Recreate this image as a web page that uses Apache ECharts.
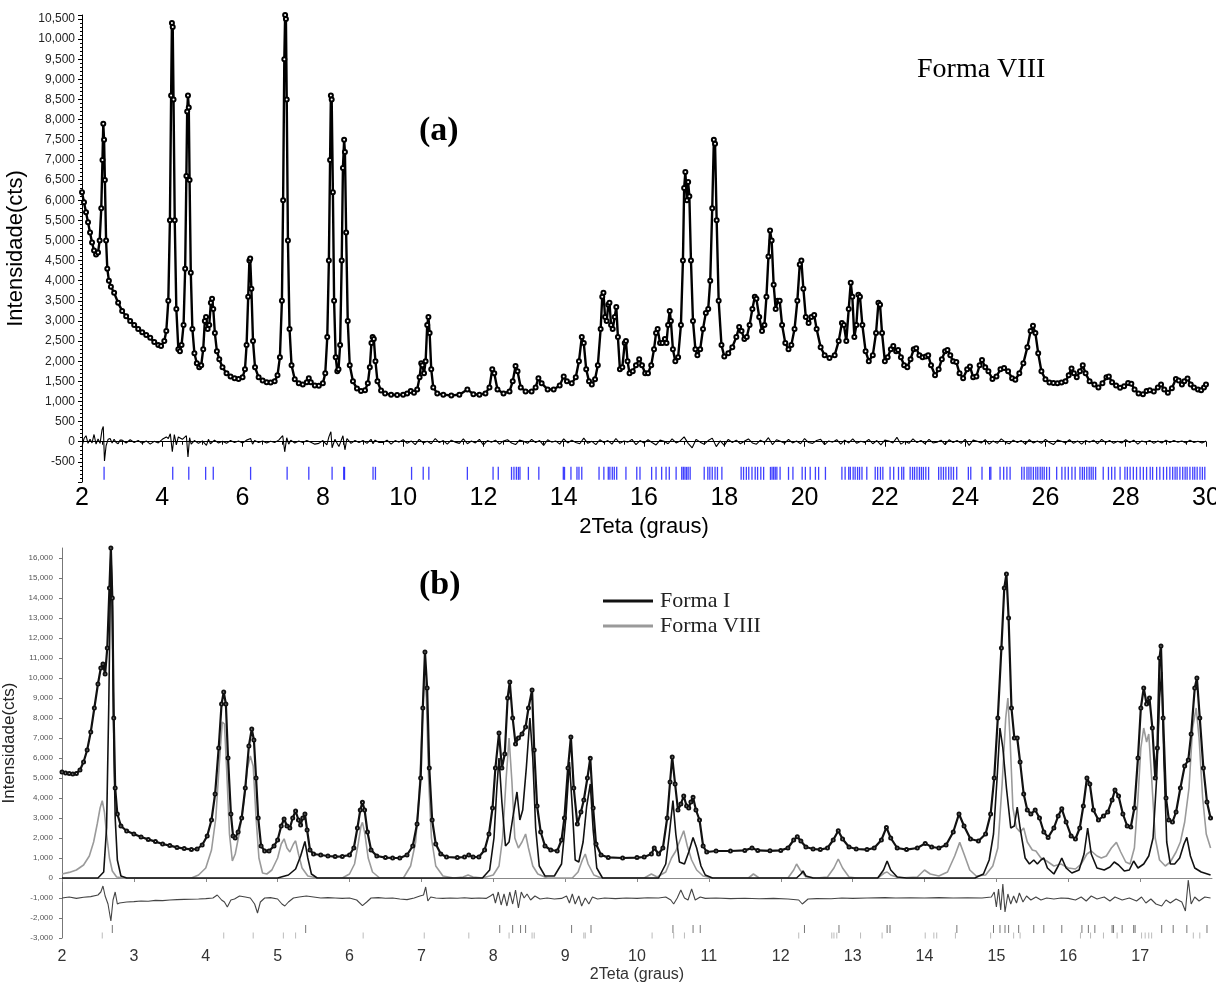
<!DOCTYPE html>
<html><head><meta charset="utf-8">
<script src="https://cdn.jsdelivr.net/npm/echarts@6/dist/echarts.min.js"></script>
<style>html,body{margin:0;padding:0;background:#fff}#c{width:1216px;height:984px}</style>
</head><body><div id="c"></div>
<script>
// ---------- Panel (a): Forma VIII refinement ----------
const obsA = [[2.00,6200],[2.05,5950],[2.10,5700],[2.15,5450],[2.20,5200],[2.25,4950],[2.30,4750],[2.35,4650],[2.40,4700],[2.44,5000],[2.48,5800],[2.51,7000],[2.53,7900],[2.55,7500],[2.57,6500],[2.60,5000],[2.63,4300],[2.67,4000],[2.72,3850],[2.80,3700],[2.90,3450],[3.00,3250],[3.10,3120],[3.20,3000],[3.30,2900],[3.40,2800],[3.50,2720],[3.60,2650],[3.70,2580],[3.80,2480],[3.90,2400],[3.97,2380],[4.05,2500],[4.10,2750],[4.15,3500],[4.19,5500],[4.22,8600],[4.24,10400],[4.26,10300],[4.28,8500],[4.31,5500],[4.35,3300],[4.40,2300],[4.44,2250],[4.48,2400],[4.53,2900],[4.57,4300],[4.60,6600],[4.62,8200],[4.64,8600],[4.66,8300],[4.68,6500],[4.71,4200],[4.75,2800],[4.80,2200],[4.86,1950],[4.92,1850],[4.97,1900],[5.02,2300],[5.06,3000],[5.09,3100],[5.13,2800],[5.17,2900],[5.21,3450],[5.24,3550],[5.27,3300],[5.31,2700],[5.36,2250],[5.42,2050],[5.50,1850],[5.60,1700],[5.70,1620],[5.80,1580],[5.90,1560],[6.00,1600],[6.06,1800],[6.10,2400],[6.14,3600],[6.17,4500],[6.19,4550],[6.22,3800],[6.26,2500],[6.31,1850],[6.40,1600],[6.50,1520],[6.60,1480],[6.70,1470],[6.80,1500],[6.87,1650],[6.93,2100],[6.98,3500],[7.01,6000],[7.04,9500],[7.06,10600],[7.08,10500],[7.10,8500],[7.13,5000],[7.17,2800],[7.22,1900],[7.30,1550],[7.40,1450],[7.50,1420],[7.60,1480],[7.65,1580],[7.70,1480],[7.80,1400],[7.90,1390],[8.00,1450],[8.06,1700],[8.11,2600],[8.15,4500],[8.18,7000],[8.20,8600],[8.22,8500],[8.25,6200],[8.28,3500],[8.32,2100],[8.36,1750],[8.39,1800],[8.43,2400],[8.47,4500],[8.50,6800],[8.53,7500],[8.55,7200],[8.58,5200],[8.62,3000],[8.67,1900],[8.75,1500],[8.85,1320],[8.95,1260],[9.05,1280],[9.12,1450],[9.17,1850],[9.21,2450],[9.24,2600],[9.27,2550],[9.31,2000],[9.36,1500],[9.45,1270],[9.55,1200],[9.70,1170],[9.85,1160],[10.00,1170],[10.10,1200],[10.19,1260],[10.27,1220],[10.35,1300],[10.41,1600],[10.45,1950],[10.48,1900],[10.52,1700],[10.56,2000],[10.60,2900],[10.63,3100],[10.66,2700],[10.70,1800],[10.75,1350],[10.85,1200],[11.00,1170],[11.20,1150],[11.40,1170],[11.60,1300],[11.75,1180],[11.90,1170],[12.05,1200],[12.15,1350],[12.22,1800],[12.27,1700],[12.35,1300],[12.50,1200],[12.65,1250],[12.73,1500],[12.80,1880],[12.85,1750],[12.93,1350],[13.05,1250],[13.20,1250],[13.30,1350],[13.37,1580],[13.45,1450],[13.60,1300],[13.75,1300],[13.90,1400],[14.00,1620],[14.08,1500],[14.20,1450],[14.30,1600],[14.38,2000],[14.45,2600],[14.50,2450],[14.56,1800],[14.63,1500],[14.70,1420],[14.78,1550],[14.85,1900],[14.92,2800],[14.96,3600],[14.99,3700],[15.03,3100],[15.07,3000],[15.11,3400],[15.14,3450],[15.18,2900],[15.22,2800],[15.27,3100],[15.31,3350],[15.35,2600],[15.40,1800],[15.46,1850],[15.52,2450],[15.55,2500],[15.59,2000],[15.64,1700],[15.72,1750],[15.80,1900],[15.88,2050],[15.95,1900],[16.03,1700],[16.10,1700],[16.18,1900],[16.25,2300],[16.30,2700],[16.34,2800],[16.40,2450],[16.46,2450],[16.52,2550],[16.56,2450],[16.60,2900],[16.64,3250],[16.67,3000],[16.72,2300],[16.78,2000],[16.85,2100],[16.92,2900],[16.97,4500],[17.00,6300],[17.03,6700],[17.07,6000],[17.10,6450],[17.13,6100],[17.17,4500],[17.22,3000],[17.28,2300],[17.33,2150],[17.40,2300],[17.47,2800],[17.54,3200],[17.60,3300],[17.65,4000],[17.70,5800],[17.74,7500],[17.77,7400],[17.81,5500],[17.86,3500],[17.93,2400],[18.00,2120],[18.10,2200],[18.20,2350],[18.30,2600],[18.37,2850],[18.43,2750],[18.50,2550],[18.56,2600],[18.63,2900],[18.70,3300],[18.76,3600],[18.80,3550],[18.87,3100],[18.94,2750],[19.00,2900],[19.05,3600],[19.10,4600],[19.14,5250],[19.18,5000],[19.23,3900],[19.28,3300],[19.33,3500],[19.38,3500],[19.44,2900],[19.52,2450],[19.60,2300],[19.67,2400],[19.75,2800],[19.82,3500],[19.88,4400],[19.92,4500],[19.97,3800],[20.03,3100],[20.10,2950],[20.17,3100],[20.24,3150],[20.30,2800],[20.40,2350],[20.50,2150],[20.62,2080],[20.75,2150],[20.85,2500],[20.93,2950],[20.98,2900],[21.04,2500],[21.10,3300],[21.15,3950],[21.19,3600],[21.24,2600],[21.29,2900],[21.34,3650],[21.38,3600],[21.44,2900],[21.52,2250],[21.60,2000],[21.70,2150],[21.78,2700],[21.84,3450],[21.88,3400],[21.93,2700],[22.00,2000],[22.07,2100],[22.15,2300],[22.21,2380],[22.28,2250],[22.33,2280],[22.40,2100],[22.48,1900],[22.56,1850],[22.64,2050],[22.72,2300],[22.78,2320],[22.86,2150],[22.94,2100],[23.02,2120],[23.08,2150],[23.15,1900],[23.25,1650],[23.34,1800],[23.42,2050],[23.50,2250],[23.56,2280],[23.63,2150],[23.70,2000],[23.78,1980],[23.86,1700],[23.95,1580],[24.05,1800],[24.12,1870],[24.20,1600],[24.28,1620],[24.36,1900],[24.42,2030],[24.50,1850],[24.58,1750],[24.68,1560],[24.78,1620],[24.88,1800],[24.97,1830],[25.07,1750],[25.17,1580],[25.25,1540],[25.35,1700],[25.45,1950],[25.55,2350],[25.63,2750],[25.69,2880],[25.75,2700],[25.82,2200],[25.90,1750],[26.00,1550],[26.10,1470],[26.20,1460],[26.30,1450],[26.40,1470],[26.50,1500],[26.58,1650],[26.65,1820],[26.71,1700],[26.78,1600],[26.86,1750],[26.93,1900],[27.00,1700],[27.10,1500],[27.22,1420],[27.32,1350],[27.42,1450],[27.52,1600],[27.58,1620],[27.66,1480],[27.76,1400],[27.86,1340],[27.96,1380],[28.06,1460],[28.14,1440],[28.22,1300],[28.32,1200],[28.43,1180],[28.52,1260],[28.60,1280],[28.70,1250],[28.80,1350],[28.88,1420],[28.96,1300],[29.05,1220],[29.15,1330],[29.25,1560],[29.32,1520],[29.40,1420],[29.46,1500],[29.54,1570],[29.62,1420],[29.70,1350],[29.80,1300],[29.88,1280],[29.95,1350],[30.00,1420]];

const diffA = [[2.00,-120],[2.05,80],[2.10,150],[2.15,-40],[2.20,60],[2.25,-30],[2.30,180],[2.35,-60],[2.40,70],[2.45,-40],[2.50,300],[2.53,380],[2.56,-480],[2.60,-100],[2.65,60],[2.70,80],[2.75,-30],[2.80,60],[2.85,-20],[2.90,-50],[2.95,40],[3.00,40],[3.10,-30],[3.20,50],[3.30,-20],[3.40,30],[3.50,-40],[3.60,20],[3.70,-60],[3.80,10],[3.90,-30],[4.00,60],[4.10,120],[4.15,80],[4.20,200],[4.25,-250],[4.30,180],[4.35,-80],[4.40,120],[4.50,60],[4.60,150],[4.64,-380],[4.68,100],[4.72,-60],[4.80,30],[4.90,-40],[5.00,20],[5.10,-90],[5.15,60],[5.20,-50],[5.30,40],[5.40,-30],[5.50,10],[5.60,-40],[5.70,30],[5.80,-20],[5.90,20],[6.00,-30],[6.10,40],[6.20,80],[6.25,-60],[6.30,30],[6.40,-20],[6.50,20],[6.60,-30],[6.70,10],[6.80,-20],[6.90,40],[7.00,150],[7.05,-250],[7.10,100],[7.15,-60],[7.20,40],[7.30,-30],[7.40,20],[7.50,-20],[7.60,30],[7.70,-10],[7.80,-60],[7.90,-40],[8.00,30],[8.10,-80],[8.15,120],[8.20,250],[8.23,-150],[8.30,60],[8.40,-120],[8.50,150],[8.55,-200],[8.60,80],[8.70,-40],[8.80,30],[8.90,-20],[9.00,30],[9.10,-40],[9.20,60],[9.25,-50],[9.30,40],[9.40,-20],[9.5,-20],[9.6,40],[9.7,-60],[9.8,30],[9.9,-10],[10.0,50],[10.1,-40],[10.2,20],[10.3,-70],[10.4,60],[10.5,-30],[10.6,10],[10.7,-50],[10.8,80],[10.9,-20],[11.0,30],[11.1,-60],[11.2,40],[11.3,-10],[11.4,-40],[11.5,70],[11.6,-50],[11.7,20],[11.8,-30],[11.9,60],[12.0,-80],[12.1,30],[12.2,-10],[12.3,40],[12.4,-60],[12.5,20],[12.6,50],[12.7,-30],[12.8,-70],[12.9,40],[13.0,10],[13.1,-40],[13.2,60],[13.3,-20],[13.4,30],[13.5,-90],[13.6,50],[13.7,-10],[13.8,20],[13.9,-60],[14.0,70],[14.1,-30],[14.2,40],[14.3,-20],[14.4,-50],[14.5,90],[14.6,-40],[14.7,10],[14.8,-70],[14.9,50],[15.0,-20],[15.1,30],[15.2,-60],[15.3,80],[15.4,-40],[15.5,20],[15.6,-10],[15.7,60],[15.8,-70],[15.9,30],[16.0,-30],[16.1,50],[16.2,-20],[16.3,-80],[16.4,40],[16.5,10],[16.6,-50],[16.7,70],[16.8,-30],[16.9,20],[17.0,120],[17.1,-40],[17.2,-150],[17.3,60],[17.4,-10],[17.5,-60],[17.6,30],[17.7,90],[17.8,-120],[17.9,20],[18.0,-90],[18.1,60],[18.2,-20],[18.3,40],[18.4,-50],[18.5,10],[18.6,70],[18.7,-30],[18.8,-60],[18.9,40],[19.0,-20],[19.1,100],[19.2,-70],[19.3,50],[19.4,10],[19.5,-40],[19.6,60],[19.7,-30],[19.8,20],[19.9,-50],[20.0,80],[20.1,-20],[20.2,-40],[20.3,30],[20.4,60],[20.5,-70],[20.6,20],[20.7,-10],[20.8,50],[20.9,-60],[21.0,40],[21.1,-30],[21.2,70],[21.3,-40],[21.4,10],[21.5,-20],[21.6,60],[21.7,-50],[21.8,30],[21.9,-80],[22.0,40],[22.1,20],[22.2,-30],[22.3,110],[22.4,-60],[22.5,10],[22.6,-40],[22.7,70],[22.8,-20],[22.9,30],[23.0,-50],[23.1,60],[23.2,-30],[23.3,-10],[23.4,40],[23.5,-70],[23.6,50],[23.7,-20],[23.8,30],[23.9,-40],[24.0,60],[24.1,-90],[24.2,40],[24.3,10],[24.4,-30],[24.5,50],[24.6,-60],[24.7,20],[24.8,-40],[24.9,70],[25.0,-10],[25.1,-50],[25.2,40],[25.3,-20],[25.4,30],[25.5,-60],[25.6,50],[25.7,-30],[25.8,20],[25.9,-40],[26.0,60],[26.1,-20],[26.2,-70],[26.3,40],[26.4,10],[26.5,-30],[26.6,50],[26.7,-40],[26.8,20],[26.9,-60],[27.0,30],[27.1,-10],[27.2,40],[27.3,-50],[27.4,60],[27.5,-20],[27.6,30],[27.7,-40],[27.8,10],[27.9,-30],[28.0,50],[28.1,-20],[28.2,40],[28.3,-60],[28.4,20],[28.5,-10],[28.6,30],[28.7,-40],[28.8,20],[28.9,-30],[29.0,40],[29.1,-20],[29.2,30],[29.3,-10],[29.4,20],[29.5,-30],[29.6,40],[29.7,-20],[29.8,10],[29.9,-30],[30.0,20]];

const reflA = [2.55,4.26,4.66,5.08,5.27,6.20,7.11,7.65,8.23,8.52,8.54,9.25,9.31,10.21,10.50,10.64,11.60,12.24,12.37,12.70,12.76,12.82,12.87,12.91,13.12,13.38,13.99,14.02,14.18,14.33,14.38,14.45,14.88,15.00,15.11,15.15,15.21,15.26,15.32,15.55,15.82,15.90,16.19,16.30,16.44,16.55,16.63,16.80,16.94,16.98,17.02,17.06,17.10,17.15,17.50,17.59,17.64,17.70,17.77,17.83,17.94,18.42,18.48,18.55,18.61,18.69,18.77,18.83,18.91,18.98,19.15,19.19,19.23,19.27,19.31,19.39,19.60,19.71,19.94,20.02,20.14,20.27,20.35,20.52,20.93,21.01,21.10,21.14,21.21,21.26,21.32,21.37,21.43,21.55,21.76,21.82,21.89,21.95,22.13,22.22,22.34,22.42,22.47,22.63,22.69,22.74,22.80,22.86,22.91,22.96,23.02,23.09,23.34,23.40,23.46,23.52,23.59,23.65,23.71,23.79,24.08,24.14,24.42,24.61,24.64,24.87,24.96,25.04,25.12,25.41,25.47,25.54,25.59,25.64,25.70,25.76,25.81,25.87,25.92,25.97,26.03,26.10,26.28,26.41,26.49,26.57,26.66,26.74,26.86,26.92,26.97,27.03,27.09,27.14,27.19,27.25,27.44,27.57,27.65,27.73,27.86,27.98,28.04,28.11,28.19,28.27,28.36,28.44,28.52,28.61,28.67,28.77,28.85,28.94,29.02,29.10,29.17,29.23,29.28,29.35,29.42,29.48,29.53,29.60,29.67,29.72,29.78,29.85,29.91,29.97];

// ---------- Panel (b): Forma I + Forma VIII mixture ----------
const totB = [[2.00,5300],[2.05,5250],[2.10,5220],[2.15,5200],[2.20,5230],[2.25,5400],[2.30,5800],[2.35,6400],[2.40,7300],[2.45,8500],[2.50,9700],[2.54,10500],[2.57,10700],[2.60,10200],[2.63,11500],[2.66,14500],[2.68,16500],[2.70,14000],[2.72,8000],[2.74,4500],[2.77,3200],[2.82,2600],[2.90,2350],[3.00,2200],[3.10,2050],[3.20,1930],[3.30,1820],[3.40,1700],[3.50,1620],[3.60,1530],[3.70,1470],[3.80,1430],[3.88,1450],[3.95,1650],[4.02,2100],[4.08,2900],[4.13,4200],[4.18,6500],[4.22,8700],[4.25,9300],[4.28,8700],[4.31,6000],[4.35,3200],[4.38,2100],[4.41,2000],[4.45,2300],[4.50,3000],[4.55,4500],[4.60,6600],[4.64,7450],[4.67,6900],[4.70,5000],[4.73,3000],[4.77,1600],[4.82,1350],[4.88,1350],[4.95,1600],[5.00,1900],[5.05,2600],[5.09,2950],[5.13,2600],[5.17,2500],[5.21,3000],[5.25,3350],[5.29,2900],[5.32,2650],[5.35,3000],[5.38,3200],[5.41,2400],[5.45,1400],[5.50,1200],[5.60,1150],[5.70,1100],[5.80,1070],[5.90,1080],[6.00,1150],[6.06,1500],[6.11,2500],[6.15,3400],[6.18,3790],[6.21,3400],[6.25,2300],[6.30,1400],[6.38,1100],[6.50,1020],[6.60,1000],[6.70,1000],[6.80,1150],[6.88,1600],[6.94,2700],[6.99,5000],[7.02,8500],[7.05,11300],[7.08,9500],[7.11,5500],[7.15,2900],[7.20,1700],[7.27,1200],[7.35,1050],[7.50,1020],[7.60,1050],[7.66,1150],[7.72,1050],[7.80,1050],[7.88,1400],[7.94,2200],[7.99,3500],[8.03,5500],[8.08,7250],[8.12,5500],[8.16,6200],[8.20,9000],[8.23,9800],[8.27,8000],[8.31,6700],[8.35,7000],[8.40,7200],[8.45,7550],[8.49,8500],[8.54,9400],[8.57,6400],[8.61,3600],[8.66,2300],[8.72,1600],[8.80,1400],[8.89,1350],[8.95,1900],[8.99,3000],[9.04,5500],[9.08,7050],[9.12,4500],[9.17,2700],[9.22,3300],[9.26,3900],[9.31,5000],[9.35,5990],[9.39,3500],[9.43,1700],[9.50,1150],[9.60,1030],[9.80,1000],[10.00,1020],[10.10,1050],[10.20,1200],[10.24,1500],[10.30,1200],[10.36,1500],[10.42,3000],[10.46,4800],[10.49,6050],[10.53,4700],[10.57,3400],[10.61,3700],[10.65,4100],[10.69,3600],[10.72,3500],[10.75,3800],[10.78,4040],[10.82,3400],[10.87,2900],[10.92,1600],[10.97,1300],[11.10,1350],[11.30,1350],[11.50,1380],[11.60,1500],[11.68,1380],[11.85,1360],[12.00,1380],[12.10,1500],[12.18,1900],[12.23,2060],[12.28,1850],[12.35,1550],[12.45,1450],[12.55,1420],[12.65,1500],[12.73,1900],[12.80,2360],[12.86,1950],[12.95,1550],[13.05,1450],[13.20,1420],[13.30,1500],[13.40,1900],[13.47,2530],[13.53,2000],[13.62,1500],[13.75,1420],[13.90,1500],[14.01,1730],[14.10,1550],[14.20,1500],[14.30,1650],[14.40,2300],[14.48,3200],[14.55,2600],[14.64,1950],[14.75,1850],[14.85,2200],[14.92,3200],[14.97,5000],[15.02,8000],[15.07,11500],[15.11,14500],[15.14,15200],[15.17,13000],[15.21,8500],[15.25,7000],[15.29,7000],[15.33,5800],[15.38,4200],[15.43,3400],[15.48,3200],[15.54,3400],[15.60,3000],[15.66,2300],[15.72,2030],[15.80,2500],[15.86,3100],[15.91,3460],[15.97,2800],[16.04,2100],[16.10,1950],[16.16,2500],[16.21,3600],[16.26,5000],[16.30,4700],[16.35,3400],[16.42,2900],[16.49,3100],[16.55,3300],[16.61,3900],[16.65,4400],[16.70,4100],[16.76,3200],[16.82,2600],[16.87,2550],[16.92,3500],[16.97,6000],[17.01,8500],[17.05,9500],[17.09,8700],[17.13,9000],[17.17,7500],[17.21,5000],[17.24,6500],[17.27,11000],[17.29,11600],[17.32,8000],[17.36,4000],[17.40,2900],[17.45,2800],[17.50,3300],[17.56,4500],[17.62,5600],[17.67,5900],[17.71,7200],[17.76,9500],[17.79,10000],[17.83,8000],[17.88,5500],[17.93,3800],[17.98,3000]];

const formaI = [[2.00,0],[2.50,0],[2.58,300],[2.62,2500],[2.65,8500],[2.68,16400],[2.70,13500],[2.72,7000],[2.74,3000],[2.77,900],[2.82,100],[2.90,0],[5.00,0],[5.15,150],[5.25,450],[5.32,1100],[5.38,1830],[5.42,1000],[5.47,200],[5.55,0],[7.85,0],[7.95,400],[8.01,2000],[8.05,4500],[8.08,6000],[8.12,3800],[8.17,1600],[8.22,1800],[8.28,3200],[8.33,4300],[8.37,2900],[8.41,3400],[8.46,5500],[8.51,8000],[8.55,6000],[8.59,2500],[8.64,600],[8.72,100],[8.85,100],[8.95,700],[9.01,3000],[9.06,5800],[9.10,3500],[9.14,900],[9.19,800],[9.25,1800],[9.30,3600],[9.35,4700],[9.39,2400],[9.44,500],[9.52,0],[10.30,0],[10.40,700],[10.45,2200],[10.50,3870],[10.54,2200],[10.59,800],[10.66,700],[10.72,1300],[10.78,2030],[10.83,1500],[10.89,600],[10.95,150],[11.05,0],[12.22,0],[12.28,200],[12.31,350],[12.35,100],[12.45,0],[13.35,0],[13.43,400],[13.48,850],[13.53,400],[13.62,50],[13.75,0],[14.70,0],[14.82,200],[14.90,900],[14.96,2200],[15.01,5000],[15.05,7500],[15.09,6500],[15.14,4500],[15.20,2500],[15.25,2600],[15.29,3540],[15.33,2500],[15.40,1000],[15.46,700],[15.52,900],[15.57,700],[15.62,900],[15.66,1000],[15.71,500],[15.80,200],[15.86,600],[15.91,1000],[15.97,500],[16.05,250],[16.15,400],[16.22,1200],[16.27,2500],[16.32,1200],[16.40,500],[16.50,400],[16.58,550],[16.64,800],[16.70,650],[16.78,350],[16.85,400],[16.91,850],[16.97,500],[17.05,700],[17.12,1100],[17.18,2000],[17.23,5000],[17.27,9000],[17.30,10300],[17.33,6000],[17.37,1800],[17.42,700],[17.48,700],[17.55,1000],[17.61,1700],[17.65,2030],[17.70,1100],[17.76,500],[17.85,300],[17.98,150]];

const formaVIII = [[2.00,200],[2.10,280],[2.20,400],[2.30,650],[2.38,1100],[2.44,1800],[2.49,2700],[2.53,3500],[2.56,3870],[2.59,3300],[2.62,2200],[2.66,1000],[2.70,350],[2.76,50],[2.85,0],[3.80,0],[3.90,150],[4.00,500],[4.08,1400],[4.14,3000],[4.19,5800],[4.23,7800],[4.26,7700],[4.29,5500],[4.33,2200],[4.37,850],[4.41,1200],[4.47,2300],[4.53,3800],[4.58,5500],[4.62,6100],[4.66,5600],[4.70,3000],[4.74,1000],[4.79,250],[4.85,200],[4.92,400],[5.00,1000],[5.05,1700],[5.09,1960],[5.13,1500],[5.17,1300],[5.22,1700],[5.25,1860],[5.29,1200],[5.34,500],[5.42,100],[5.55,0],[5.90,0],[6.00,200],[6.07,700],[6.12,1700],[6.16,2600],[6.18,2780],[6.21,2300],[6.26,1000],[6.32,300],[6.42,0],[6.75,0],[6.85,600],[6.92,1800],[6.97,4200],[7.01,7500],[7.04,10200],[7.07,9000],[7.10,5000],[7.14,2000],[7.20,600],[7.30,100],[7.45,0],[7.58,50],[7.65,150],[7.72,50],[7.85,0],[8.00,150],[8.08,600],[8.13,2000],[8.18,5000],[8.22,7000],[8.26,4800],[8.30,2000],[8.35,1500],[8.40,1800],[8.45,2200],[8.49,1500],[8.55,600],[8.62,200],[8.75,0],[9.10,0],[9.18,300],[9.24,900],[9.28,1200],[9.32,700],[9.40,150],[9.50,0],[10.10,0],[10.20,200],[10.28,50],[10.40,300],[10.48,1000],[10.54,1350],[10.60,1900],[10.65,2360],[10.70,1600],[10.76,900],[10.83,400],[10.92,100],[11.05,0],[11.55,0],[11.62,200],[11.70,0],[12.10,0],[12.18,400],[12.22,700],[12.27,400],[12.35,50],[12.50,0],[12.65,50],[12.74,500],[12.80,950],[12.86,500],[12.95,50],[13.05,0],[13.35,0],[13.44,250],[13.48,300],[13.53,150],[13.65,0],[13.90,50],[14.00,400],[14.08,200],[14.20,100],[14.32,300],[14.42,1100],[14.49,1780],[14.55,1200],[14.63,400],[14.72,100],[14.85,150],[14.95,600],[15.02,1500],[15.08,4700],[15.13,8000],[15.16,9000],[15.19,7000],[15.23,3500],[15.28,2500],[15.33,2300],[15.38,2500],[15.43,1800],[15.50,1400],[15.55,1350],[15.62,1000],[15.70,850],[15.80,600],[15.90,700],[16.00,500],[16.10,450],[16.18,700],[16.26,1200],[16.32,1350],[16.40,1100],[16.46,1000],[16.53,1100],[16.60,1500],[16.67,1780],[16.73,1300],[16.80,800],[16.86,700],[16.92,1500],[16.97,4000],[17.01,6500],[17.05,7500],[17.09,6800],[17.12,7200],[17.16,5000],[17.21,2000],[17.27,900],[17.35,600],[17.42,800],[17.50,1300],[17.56,1800],[17.62,2800],[17.68,4500],[17.73,7500],[17.78,8500],[17.82,7000],[17.87,4000],[17.92,2200],[17.98,1500]];

const diffB = [[2.00,-1000],[2.10,-950],[2.20,-1020],[2.30,-960],[2.40,-930],[2.50,-850],[2.54,-700],[2.57,-400],[2.60,-900],[2.64,-1300],[2.68,-2150],[2.71,-1100],[2.74,-700],[2.77,-1300],[2.80,-1250],[2.90,-1200],[3.00,-1180],[3.10,-1150],[3.20,-1160],[3.30,-1120],[3.40,-1130],[3.50,-1100],[3.60,-1080],[3.70,-1070],[3.80,-1060],[3.90,-1050],[4.00,-1030],[4.10,-1000],[4.16,-850],[4.22,-1100],[4.26,-1200],[4.30,-1450],[4.35,-1100],[4.40,-1050],[4.47,-900],[4.55,-950],[4.62,-1000],[4.68,-1300],[4.72,-1750],[4.76,-1200],[4.82,-1000],[4.90,-980],[5.00,-1050],[5.06,-1300],[5.10,-1400],[5.15,-1200],[5.22,-1000],[5.30,-950],[5.40,-900],[5.50,-950],[5.60,-1000],[5.70,-980],[5.80,-1000],[5.90,-1020],[6.00,-1000],[6.10,-1100],[6.18,-1380],[6.24,-1200],[6.30,-1000],[6.40,-980],[6.50,-1010],[6.60,-1000],[6.70,-1050],[6.80,-1080],[6.90,-1000],[6.98,-900],[7.03,-850],[7.06,-450],[7.09,-1150],[7.13,-950],[7.20,-1000],[7.30,-1020],[7.40,-1000],[7.50,-1010],[7.60,-990],[7.70,-1020],[7.80,-1000],[7.90,-1020],[7.96,-900],[8.00,-800],[8.03,-1250],[8.07,-700],[8.11,-1350],[8.15,-800],[8.19,-1400],[8.23,-700],[8.27,-1300],[8.31,-600],[8.35,-1500],[8.39,-700],[8.43,-1000],[8.47,-800],[8.52,-1100],[8.58,-900],[8.65,-1050],[8.75,-1000],[8.85,-1050],[8.95,-1020],[9.02,-900],[9.06,-1250],[9.10,-800],[9.14,-1300],[9.19,-900],[9.23,-1400],[9.28,-1000],[9.33,-1300],[9.38,-950],[9.45,-1050],[9.55,-1000],[9.70,-1030],[9.85,-1000],[10.00,-1020],[10.15,-990],[10.30,-1000],[10.40,-950],[10.47,-1100],[10.51,-1300],[10.56,-1000],[10.61,-600],[10.66,-1000],[10.71,-1100],[10.76,-550],[10.81,-1100],[10.88,-950],[10.95,-1020],[11.10,-1000],[11.30,-1030],[11.50,-1010],[11.70,-1040],[11.90,-1020],[12.10,-1050],[12.25,-1100],[12.30,-1300],[12.38,-1050],[12.50,-1030],[12.70,-1040],[12.85,-1000],[13.00,-1020],[13.20,-1000],[13.45,-980],[13.60,-1000],[13.80,-990],[14.00,-1000],[14.20,-980],[14.40,-1000],[14.60,-990],[14.80,-1000],[14.93,-950],[14.97,-700],[15.00,-1450],[15.03,-550],[15.06,-1600],[15.09,-300],[15.12,-1700],[15.16,-800],[15.20,-1300],[15.24,-900],[15.28,-1250],[15.32,-750],[15.37,-1200],[15.42,-900],[15.48,-1100],[15.55,-950],[15.62,-1100],[15.70,-1000],[15.80,-1050],[15.90,-1000],[16.00,-1020],[16.10,-1100],[16.18,-950],[16.25,-1150],[16.32,-900],[16.40,-1050],[16.50,-950],[16.58,-1150],[16.65,-950],[16.75,-1100],[16.85,-1000],[16.95,-1150],[17.02,-950],[17.08,-1250],[17.15,-1050],[17.22,-1300],[17.30,-1400],[17.36,-1100],[17.42,-1250],[17.50,-1050],[17.58,-1200],[17.63,-1650],[17.67,-100],[17.71,-1300],[17.76,-950],[17.82,-1150],[17.90,-950],[17.98,-1000]];

const reflB1 = [2.70,5.39,8.09,8.27,8.38,8.45,9.09,9.36,10.50,10.78,10.88,12.33,12.81,13.48,13.52,14.45,14.96,15.05,15.12,15.17,15.31,15.52,15.66,15.91,16.19,16.28,16.37,16.61,16.63,16.75,16.91,16.93,17.30,17.46,17.65,17.93];
const reflB2 = [2.56,4.25,4.66,5.08,5.25,6.19,7.04,7.66,8.22,8.54,8.57,9.26,9.28,10.21,10.51,10.66,12.25,12.71,12.74,12.78,13.11,13.41,14.01,14.13,14.17,14.43,14.92,15.24,15.33,16.17,16.31,16.49,16.68,17.02,17.07,17.12,17.16,17.74,17.83];

const seriesNames = ['Forma I', 'Forma VIII'];
const SANS = "'Liberation Sans', Arial, sans-serif";
const SERIF = "'Liberation Serif', 'Times New Roman', serif";
const fmt = v => Number(v).toLocaleString('en-US');

const chart = echarts.init(document.getElementById('c'), null, {renderer: 'canvas'});
chart.setOption({
  animation: false,
  backgroundColor: '#fff',
  grid: [
    {left: 82, right: 10, top: 15, height: 467, outerBoundsMode: 'none'},
    {left: 62, right: 4, top: 548, height: 390, outerBoundsMode: 'none'}
  ],
  legend: {
    data: seriesNames, orient: 'vertical', left: 598, top: 585,
    icon: 'rect', itemWidth: 50, itemHeight: 3, itemGap: 3,
    textStyle: {fontFamily: SERIF, fontSize: 22, color: '#222', padding: [0, 0, 0, 2]}
  },
  xAxis: [
    {gridIndex: 0, type: 'value', min: 2, max: 30, interval: 2,
     axisLine: {lineStyle: {color: '#000'}}, axisTick: {length: 5, lineStyle: {color: '#000'}},
     minorTick: {show: true, splitNumber: 4, length: 3, lineStyle: {color: '#000'}},
     splitLine: {show: false},
     axisLabel: {fontSize: 25, color: '#000', fontFamily: SANS, margin: 4},
     name: '2Teta (graus)', nameLocation: 'middle', nameGap: 34,
     nameTextStyle: {fontSize: 22, color: '#000', fontFamily: SANS}},
    {gridIndex: 1, type: 'value', min: 2, max: 18, interval: 1,
     axisLine: {lineStyle: {color: '#888'}}, axisTick: {length: 4, lineStyle: {color: '#888'}},
     splitLine: {show: false},
     axisLabel: {fontSize: 16, color: '#333', fontFamily: SANS, margin: 11, showMaxLabel: false},
     name: '2Teta (graus)', nameLocation: 'middle', nameGap: 29,
     nameTextStyle: {fontSize: 16, color: '#333', fontFamily: SANS}}
  ],
  yAxis: [
    {gridIndex: 0, type: 'value', min: -1000, max: 10600, interval: 500,
     axisLine: {show: true, lineStyle: {color: '#000'}}, axisTick: {show: true, length: 4, lineStyle: {color: '#000'}},
     minorTick: {show: true, splitNumber: 5, length: 2, lineStyle: {color: '#000'}},
     splitLine: {show: false},
     axisLabel: {fontSize: 12, color: '#222', fontFamily: SANS, margin: 7, formatter: fmt, showMaxLabel: false, showMinLabel: false},
     name: 'Intensidade(cts)', nameLocation: 'middle', nameGap: 49,
     nameTextStyle: {fontSize: 22, color: '#000', fontFamily: SANS}},
    {gridIndex: 1, type: 'value', min: -3000, max: 16500, interval: 1000,
     axisLine: {show: true, lineStyle: {color: '#777'}}, axisTick: {show: true, length: 3, lineStyle: {color: '#777'}},
     splitLine: {show: false},
     axisLabel: {fontSize: 8, color: '#555', fontFamily: SANS, margin: 9, formatter: fmt, showMaxLabel: false},
     name: 'Intensidade(cts)', nameLocation: 'middle', nameGap: 35,
     nameTextStyle: {fontSize: 17, color: '#222', fontFamily: SANS}}
  ],
  graphic: [
    {type: 'text', left: 419, top: 114, style: {text: '(a)', font: 'bold 34px ' + SERIF, fill: '#000'}},
    {type: 'text', left: 917, top: 56, style: {text: 'Forma VIII', font: '28px ' + SERIF, fill: '#000'}},
    {type: 'text', left: 419, top: 568, style: {text: '(b)', font: 'bold 34px ' + SERIF, fill: '#000'}}
  ],
  series: [
    {type: 'line', xAxisIndex: 0, yAxisIndex: 0, data: diffA, symbol: 'none',
     lineStyle: {color: '#000', width: 1.1}, silent: true},
    {type: 'scatter', xAxisIndex: 0, yAxisIndex: 0, data: reflA.map(x => [x, -785]),
     symbol: 'rect', symbolSize: [1.3, 13], itemStyle: {color: '#1010ff'}, silent: true},
    {type: 'line', xAxisIndex: 0, yAxisIndex: 0, data: obsA, showSymbol: true, showAllSymbol: true,
     symbol: 'emptyCircle', symbolSize: 4, lineStyle: {color: '#000', width: 2.4},
     itemStyle: {color: '#000', borderColor: '#000', borderWidth: 1}, silent: true},

    {name: 'Forma VIII', type: 'line', xAxisIndex: 1, yAxisIndex: 1, data: formaVIII, symbol: 'none',
     lineStyle: {color: '#9a9a9a', width: 1.6}, itemStyle: {color: '#9a9a9a'}, silent: true},
    {name: 'Forma I', type: 'line', xAxisIndex: 1, yAxisIndex: 1, data: formaI, symbol: 'none',
     lineStyle: {color: '#111', width: 1.6}, itemStyle: {color: '#111'}, silent: true},
    {type: 'line', xAxisIndex: 1, yAxisIndex: 1, data: diffB, symbol: 'none',
     lineStyle: {color: '#444', width: 1.1}, silent: true},
    {type: 'scatter', xAxisIndex: 1, yAxisIndex: 1, data: reflB1.map(x => [x, -2550]),
     symbol: 'rect', symbolSize: [1, 8], itemStyle: {color: '#555'}, silent: true},
    {type: 'scatter', xAxisIndex: 1, yAxisIndex: 1, data: reflB2.map(x => [x, -2870]),
     symbol: 'rect', symbolSize: [1, 6], itemStyle: {color: '#aaa'}, silent: true},
    {type: 'line', xAxisIndex: 1, yAxisIndex: 1, data: totB, showSymbol: true, showAllSymbol: true,
     symbol: 'emptyCircle', symbolSize: 3, lineStyle: {color: '#111', width: 2.2},
     itemStyle: {color: '#111', borderColor: '#111', borderWidth: 1}, silent: true}
  ]
});
</script>
</body></html>
